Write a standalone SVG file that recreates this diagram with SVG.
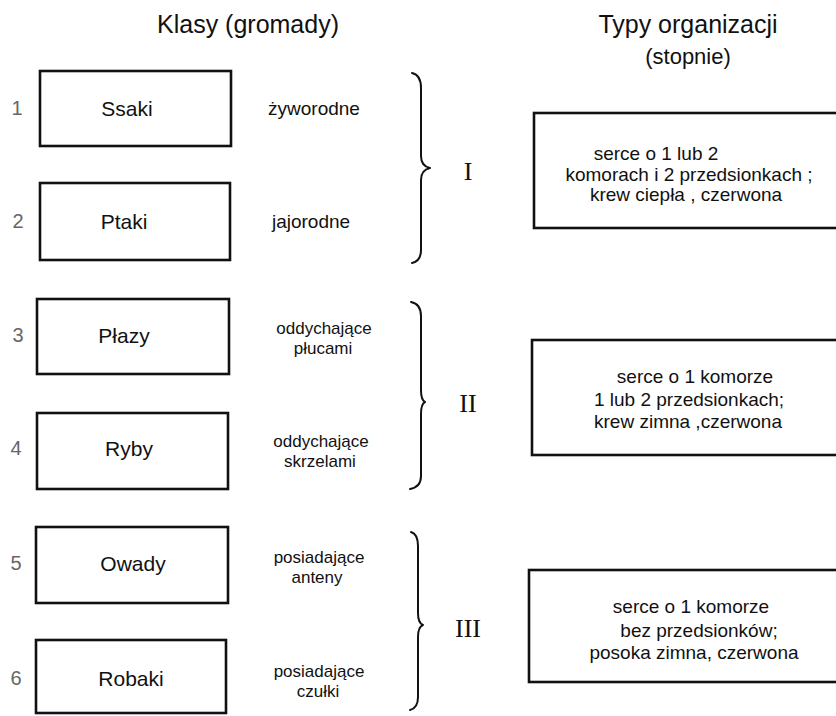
<svg xmlns="http://www.w3.org/2000/svg" width="836" height="716" viewBox="0 0 836 716">
<style>
  text { font-family: "Liberation Sans", Arial, sans-serif; fill: #111; }
  .box { fill: #fff; stroke: #111; stroke-width: 2.6; }
  .num { font-size: 20px; fill: #666; text-anchor: middle; }
  .cls { font-size: 21px; text-anchor: middle; }
  .side { font-size: 19px; text-anchor: middle; }
  .side2 { font-size: 17px; text-anchor: middle; }
  .title { font-size: 25px; text-anchor: middle; }
  .sub { font-size: 22px; text-anchor: middle; }
  .desc { font-size: 19px; text-anchor: middle; }
  .roman { font-family: "Liberation Serif", "Times New Roman", serif; font-size: 26px; text-anchor: middle; }
  .brace { fill: none; stroke: #111; stroke-width: 2; stroke-linecap: round; stroke-linejoin: round; }
</style>
<rect width="836" height="716" fill="#fff"/>

<g id="titles">
  <text class="title" x="248" y="33">Klasy (gromady)</text>
  <text class="title" x="688" y="33">Typy  organizacji</text>
  <text class="sub" x="688" y="64">(stopnie)</text>
</g>

<g id="class1">
  <text class="num" x="17" y="115">1</text>
  <rect class="box" x="40" y="71" width="191" height="75"/>
  <text class="cls" x="127" y="116">Ssaki</text>
  <text class="side" x="314" y="115">żyworodne</text>
</g>
<g id="class2">
  <text class="num" x="18" y="228">2</text>
  <rect class="box" x="40" y="183" width="190" height="77"/>
  <text class="cls" x="124" y="229">Ptaki</text>
  <text class="side" x="311" y="228">jajorodne</text>
</g>
<g id="class3">
  <text class="num" x="18" y="342">3</text>
  <rect class="box" x="37" y="299" width="192" height="75"/>
  <text class="cls" x="124" y="343">Płazy</text>
  <text class="side2" x="324" y="334">oddychające</text>
  <text class="side2" x="323" y="354">płucami</text>
</g>
<g id="class4">
  <text class="num" x="16" y="455">4</text>
  <rect class="box" x="37" y="413" width="191" height="76"/>
  <text class="cls" x="129" y="456">Ryby</text>
  <text class="side2" x="321" y="447">oddychające</text>
  <text class="side2" x="320" y="467">skrzelami</text>
</g>
<g id="class5">
  <text class="num" x="16" y="570">5</text>
  <rect class="box" x="36" y="527" width="192" height="76"/>
  <text class="cls" x="133" y="571">Owady</text>
  <text class="side2" x="319" y="563">posiadające</text>
  <text class="side2" x="317" y="583">anteny</text>
</g>
<g id="class6">
  <text class="num" x="16" y="685">6</text>
  <rect class="box" x="36" y="640" width="190" height="73"/>
  <text class="cls" x="131" y="686">Robaki</text>
  <text class="side2" x="319" y="677">posiadające</text>
  <text class="side2" x="318" y="697">czułki</text>
</g>

<g id="connectors">
  <path class="brace" d="M412,73 Q421,75 421,88 L421,156 Q421,166 430,168 Q421,170 421,180 L421,250 Q421,261 412,263"/>
  <path class="brace" d="M411,302 Q421,304 421,316 L421,390 Q421,400 425,402 Q421,404 421,414 L421,476 Q421,487 410,489"/>
  <path class="brace" d="M411,532 Q418,534 418,546 L418,613 Q418,623 423,625 Q418,627 418,637 L418,697 Q418,708 410,710"/>
</g>

<g id="type1">
  <text class="roman" x="468" y="180">I</text>
  <rect class="box" x="534" y="113" width="310" height="115"/>
  <text class="desc" x="656" y="160">serce o 1 lub 2</text>
  <text class="desc" x="689" y="181">komorach i 2 przedsionkach ;</text>
  <text class="desc" x="686" y="201">krew ciepła , czerwona</text>
</g>
<g id="type2">
  <text class="roman" x="468" y="412">II</text>
  <rect class="box" x="532" y="340" width="312" height="115"/>
  <text class="desc" x="695" y="383">serce o 1 komorze</text>
  <text class="desc" x="689" y="406">1 lub 2 przedsionkach;</text>
  <text class="desc" x="688" y="428">krew zimna ,czerwona</text>
</g>
<g id="type3">
  <text class="roman" x="468" y="637">III</text>
  <rect class="box" x="529" y="570" width="315" height="112"/>
  <text class="desc" x="691" y="613">serce o 1  komorze</text>
  <text class="desc" x="699" y="637">bez przedsionków;</text>
  <text class="desc" x="694" y="659">posoka zimna, czerwona</text>
</g>
</svg>
